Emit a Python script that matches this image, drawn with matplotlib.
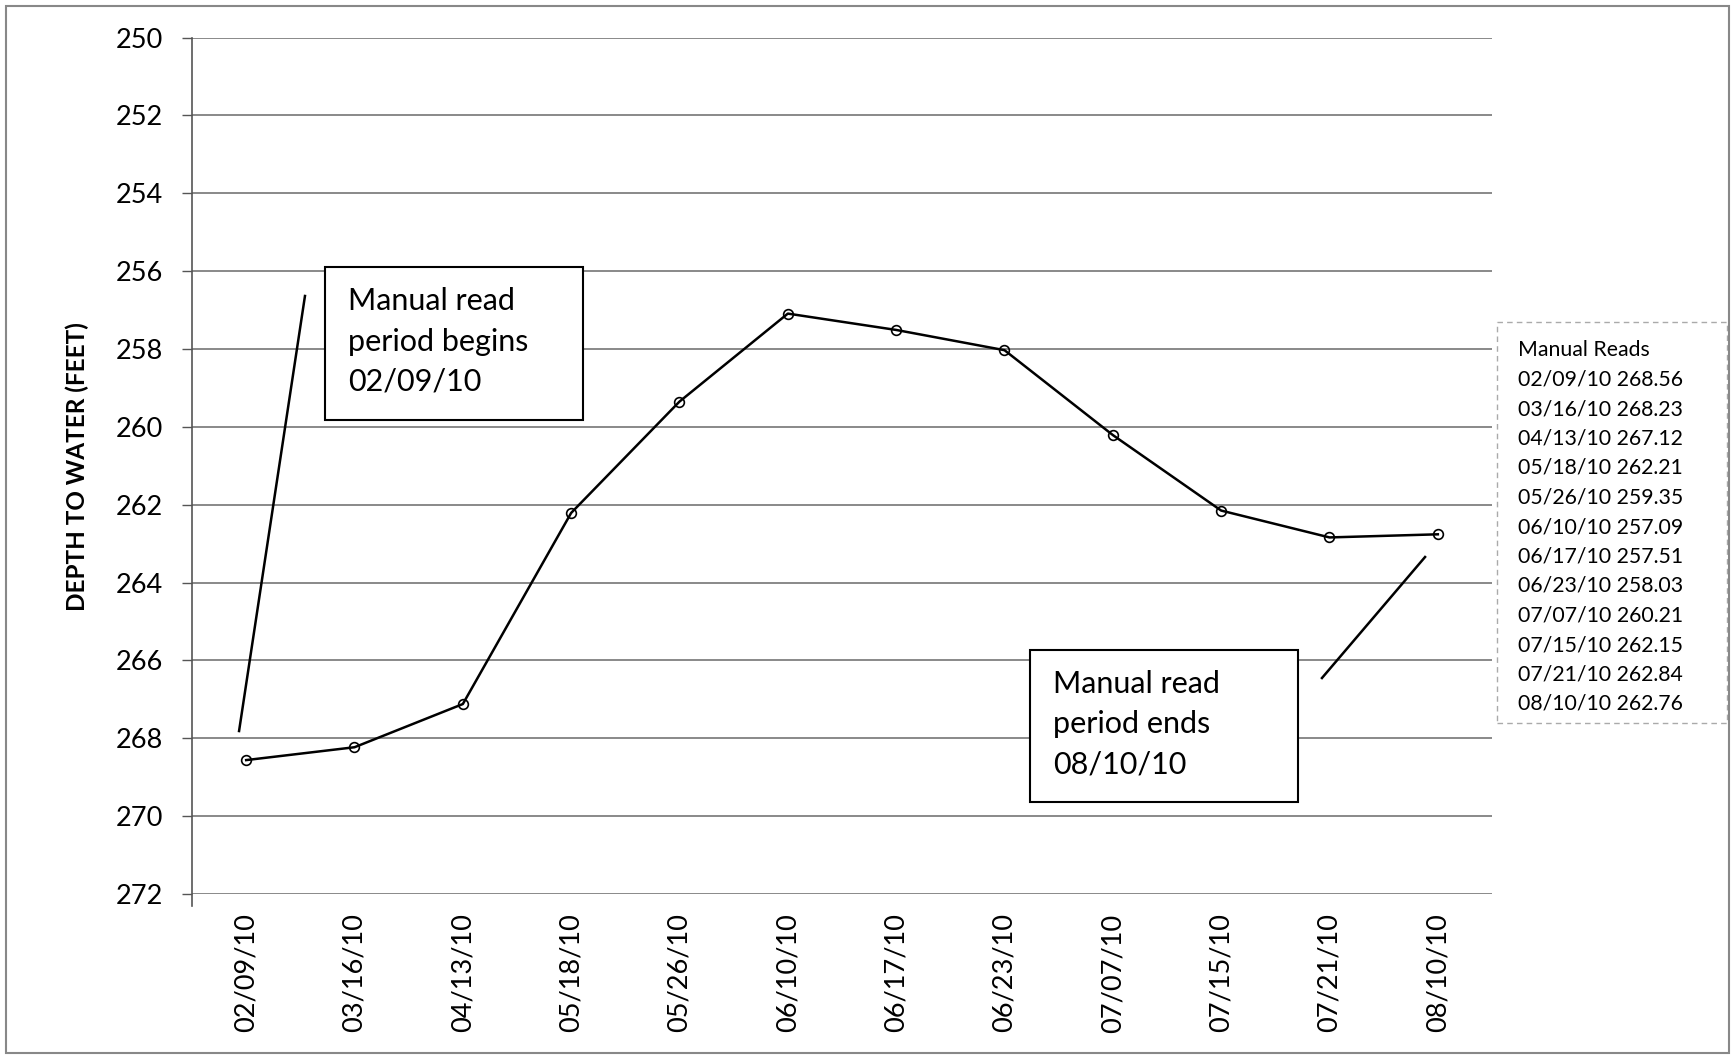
import matplotlib
matplotlib.use("Agg")
import matplotlib.pyplot as plt
from matplotlib.patches import Rectangle
from matplotlib.lines import Line2D

plt.rcParams['font.family'] = ['Lato', 'DejaVu Sans']

dates = ["02/09/10", "03/16/10", "04/13/10", "05/18/10", "05/26/10", "06/10/10",
         "06/17/10", "06/23/10", "07/07/10", "07/15/10", "07/21/10", "08/10/10"]
depth = [268.56, 268.23, 267.12, 262.21, 259.35, 257.09,
         257.51, 258.03, 260.21, 262.15, 262.84, 262.76]
yticks = list(range(250, 273, 2))
ylabel = "DEPTH TO WATER (FEET)"
note_begin = "Manual read\nperiod begins\n02/09/10"
note_end = "Manual read\nperiod ends\n08/10/10"
legend_title = "Manual Reads"

W, H = 1733, 1058
fig = plt.figure(figsize=(W / 100, H / 100), dpi=100)
ax = fig.add_axes([192 / W, 1 - 894 / H, 1300 / W, (894 - 37.6) / H])

x = list(range(len(dates)))
ax.plot(x, depth, color='black', lw=1.8, marker='o', ms=7,
        markerfacecolor='none', markeredgecolor='black', markeredgewidth=1.2, zorder=3)

ax.set_xlim(-0.5, len(dates) - 0.5)
ax.set_ylim(272, 250)
ax.set_yticks(yticks)
ax.set_yticklabels([str(t) for t in yticks], fontsize=19.5)
ax.set_xticks(x)
ax.set_xticklabels(dates, rotation=90, fontsize=19.5)
ax.tick_params(axis='x', length=0, pad=14)
ax.tick_params(axis='y', length=7, width=1, color='#555555', pad=14, direction='out')
ax.yaxis.grid(True, color='#808080', lw=1.3)
ax.set_axisbelow(True)
for s in ['top', 'right', 'bottom']:
    ax.spines[s].set_visible(False)
ax.spines['left'].set_color('#555555')
ax.spines['left'].set_linewidth(1.2)
ax.spines['left'].set_bounds(272.3, 250)

fig.text(77 / W, 1 - 467 / H, ylabel, rotation=90, fontsize=17.5, fontweight='bold',
         ha='center', va='center')

# annotation boxes (axes coordinates)
ax.add_patch(Rectangle((0.102, 0.5535), 0.199, 0.1785, transform=ax.transAxes,
                       facecolor='white', edgecolor='black', lw=1.5, zorder=4, clip_on=False))
ax.text(0.12, 0.645, note_begin, transform=ax.transAxes, fontsize=22,
        va='center', ha='left', linespacing=1.53, zorder=5)
ax.add_line(Line2D([0.0869, 0.0362], [0.6983, 0.1903], transform=ax.transAxes,
                   color='black', lw=1.8, zorder=4))

ax.add_patch(Rectangle((0.6446, 0.1074), 0.2062, 0.1775, transform=ax.transAxes,
                       facecolor='white', edgecolor='black', lw=1.5, zorder=4, clip_on=False))
ax.text(0.6623, 0.1985, note_end, transform=ax.transAxes, fontsize=22,
        va='center', ha='left', linespacing=1.53, zorder=5)
ax.add_line(Line2D([0.8692, 0.9485], [0.2522, 0.3935], transform=ax.transAxes,
                   color='black', lw=1.8, zorder=4))

# manual reads text box (figure coordinates)
fig.patches.append(Rectangle((1497 / W, 1 - 723 / H), 230 / W, 401 / H,
                             transform=fig.transFigure, facecolor='none',
                             edgecolor='#aaaaaa', lw=1, ls=(0, (4, 3))))
y0 = 1 - 350 / H
dy = 29.5 / H
fig.text(1518 / W, y0, legend_title, fontsize=15.3, va='center', ha='left')
for i, (d, v) in enumerate(zip(dates, depth)):
    fig.text(1518 / W, y0 - (i + 1) * dy, f"{d} {v:.2f}", fontsize=15.3,
             va='center', ha='left')

# outer frame
fig.patches.append(Rectangle((6 / W, 5 / H), (W - 10) / W, (H - 11) / H,
                             transform=fig.transFigure, facecolor='none',
                             edgecolor='#888888', lw=1.5))

fig.savefig("out.png", dpi=100)
